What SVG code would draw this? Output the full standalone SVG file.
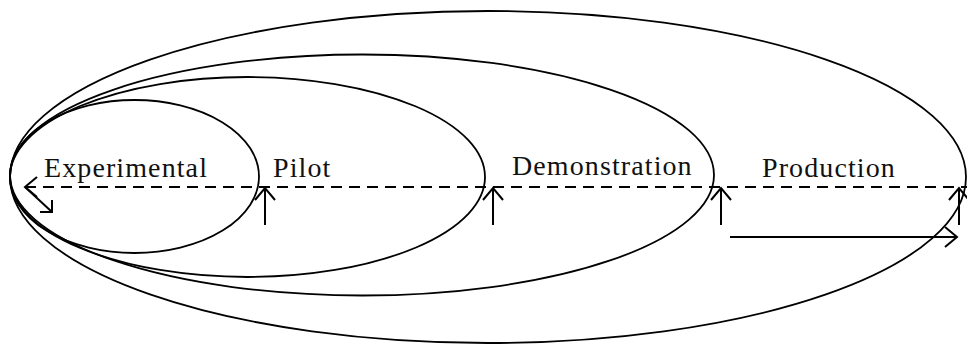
<svg xmlns="http://www.w3.org/2000/svg" width="967" height="344" viewBox="0 0 967 344">
<style>
.ell{fill:none;stroke:#000;stroke-width:1.8}
.lbl{font-family:"Liberation Serif","Times New Roman",serif;font-size:28px;letter-spacing:1.1px;fill:#111}
.ln{fill:none;stroke:#000;stroke-width:2}
.dash{stroke-dasharray:11 7}
</style>
<defs>
<marker id="ah" markerUnits="userSpaceOnUse" markerWidth="30" markerHeight="30" viewBox="-15 -15 30 30" refX="0" refY="0" orient="auto-start-reverse" overflow="visible">
<path d="M-12 -10 L0 0 L-12 10" fill="none" stroke="#000" stroke-width="2" stroke-dasharray="none"/>
</marker>
</defs>
<rect width="967" height="344" fill="#fff"/>
<g id="production"><ellipse class="ell" cx="488" cy="177" rx="478" ry="166"/><text class="lbl" x="762" y="177">Production</text></g>
<g id="demonstration"><ellipse class="ell" cx="362" cy="175" rx="352" ry="120.5"/><text class="lbl" x="512" y="175">Demonstration</text></g>
<g id="pilot"><ellipse class="ell" cx="247.5" cy="177" rx="237.5" ry="100"/><text class="lbl" x="273" y="177">Pilot</text></g>
<g id="experimental"><ellipse class="ell" cx="134.5" cy="176.5" rx="124.5" ry="76.5"/><text class="lbl" x="44" y="177">Experimental</text></g>
<g id="connectors">
<line class="ln dash" x1="25" y1="187" x2="967" y2="187" marker-start="url(#ah)"/>
<line class="ln" x1="25" y1="187" x2="52" y2="212"/>
<path class="ln" d="M52 200 L52 212 L40 212"/>
<line class="ln" x1="265" y1="225" x2="265" y2="188" marker-end="url(#ah)"/>
<line class="ln" x1="493" y1="225" x2="493" y2="188" marker-end="url(#ah)"/>
<line class="ln" x1="721" y1="225" x2="721" y2="188" marker-end="url(#ah)"/>
<line class="ln" x1="959" y1="225" x2="959" y2="188" marker-end="url(#ah)"/>
<line class="ln" x1="730" y1="237" x2="957" y2="237" marker-end="url(#ah)"/>
</g>
</svg>
